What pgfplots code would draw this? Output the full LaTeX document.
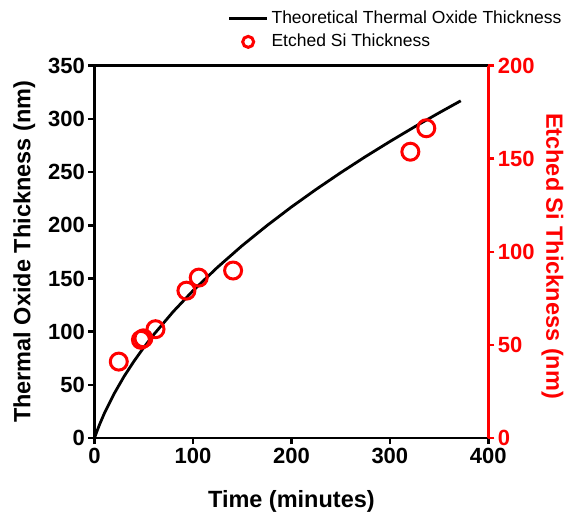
\documentclass[border=0pt]{standalone}
\usepackage{fontspec}
\setmainfont{Liberation Sans}
\usepackage{pgfplots}
\pgfplotsset{compat=1.18}
\definecolor{pred}{RGB}{255,0,0}
\begin{document}
\begin{tikzpicture}
\pgfplotsset{
  every axis/.append style={
    scale only axis, width=394pt, height=372.6pt,
    xmin=0, xmax=400,
    tick align=outside, major tick length=6pt,
    every tick/.style={line width=2.7pt},
    axis line style={line width=2.7pt},
    /pgf/number format/assume math mode=true,
    ticklabel style={font=\fontsize{22}{26}\selectfont\bfseries},
  }
}
\begin{axis}[
  axis y line*=left,
  ymin=0, ymax=350,
  ytick={0,50,100,150,200,250,300,350},
  xtick={0,100,200,300,400},
  xtick pos=left,
  every axis y label/.style={at={(axis description cs:-0.178,0.5)}, anchor=center, rotate=90, font=\fontsize{23.5}{28}\selectfont\bfseries},
  every axis x label/.style={at={(axis description cs:0.5,-0.171)}, anchor=center, font=\fontsize{23.5}{28}\selectfont\bfseries},
  xlabel={Time (minutes)},
  ylabel={Thermal Oxide Thickness (nm)},
  clip=false,
]
\coordinate (bl) at (rel axis cs:0,0);
\coordinate (tr) at (rel axis cs:1,1);
\addplot[black, line width=2.8pt, line join=round, no marks] coordinates {
 (0,0) (1,2.6) (2.5,6.4) (5,12.4) (10,23.2) (20,41.8) (30,57.9) (40,72.1)
 (50,85.1) (60,97.1) (80,118.9) (100,138.5) (125,160.6) (150,180.9)
 (175,199.6) (200,217.2) (225,233.7) (250,249.4) (275,264.4) (300,278.7)
 (325,292.5) (350,305.7) (372,317.0)
};
\end{axis}
\begin{axis}[
  axis y line*=right,
  axis x line=none,
  ymin=0, ymax=200,
  ytick={0,50,100,150,200},
  y axis line style={pred},
  ytick style={pred},
  yticklabel style={pred},
  every axis y label/.style={at={(axis description cs:1.163,0.489)}, anchor=center, rotate=-90, text=pred, font=\fontsize{23.5}{28}\selectfont\bfseries},
  ylabel={Etched Si Thickness (nm)},
  legend image code/.code={\draw[mark repeat=2,mark phase=2,#1,mark size=5.5pt] plot coordinates {(0pt,0pt) (19pt,0pt) (38pt,0pt)};},
  legend style={at={(axis description cs:0.338,1.149)}, anchor=north west,
    draw=none, fill=none, inner sep=0pt, row sep=6pt,
    font=\fontsize{17.5}{21}\selectfont,
    nodes={inner xsep=3pt, inner ysep=0pt, text height=13pt, text depth=4pt}},
  legend cell align=left,
  clip=false,
]
\addlegendimage{black, line width=2.8pt}
\addlegendentry{Theoretical Thermal Oxide Thickness}
\addplot[only marks, mark=o, mark size=8.5pt, pred, mark options={line width=3pt}] coordinates {
 (24.7,41.1) (47.2,52.8) (49.7,53.6) (62.0,58.5) (93.4,79.2) (105.9,86.2)
 (140.8,90.0) (320.8,153.8) (337.0,166.4)
};
\addlegendentry{Etched Si Thickness}
\end{axis}
\pgfresetboundingbox
\path ([shift={(-94.5pt,-80.7pt)}]bl) rectangle ([shift={(75.7pt,65.7pt)}]tr);
\end{tikzpicture}
\end{document}
